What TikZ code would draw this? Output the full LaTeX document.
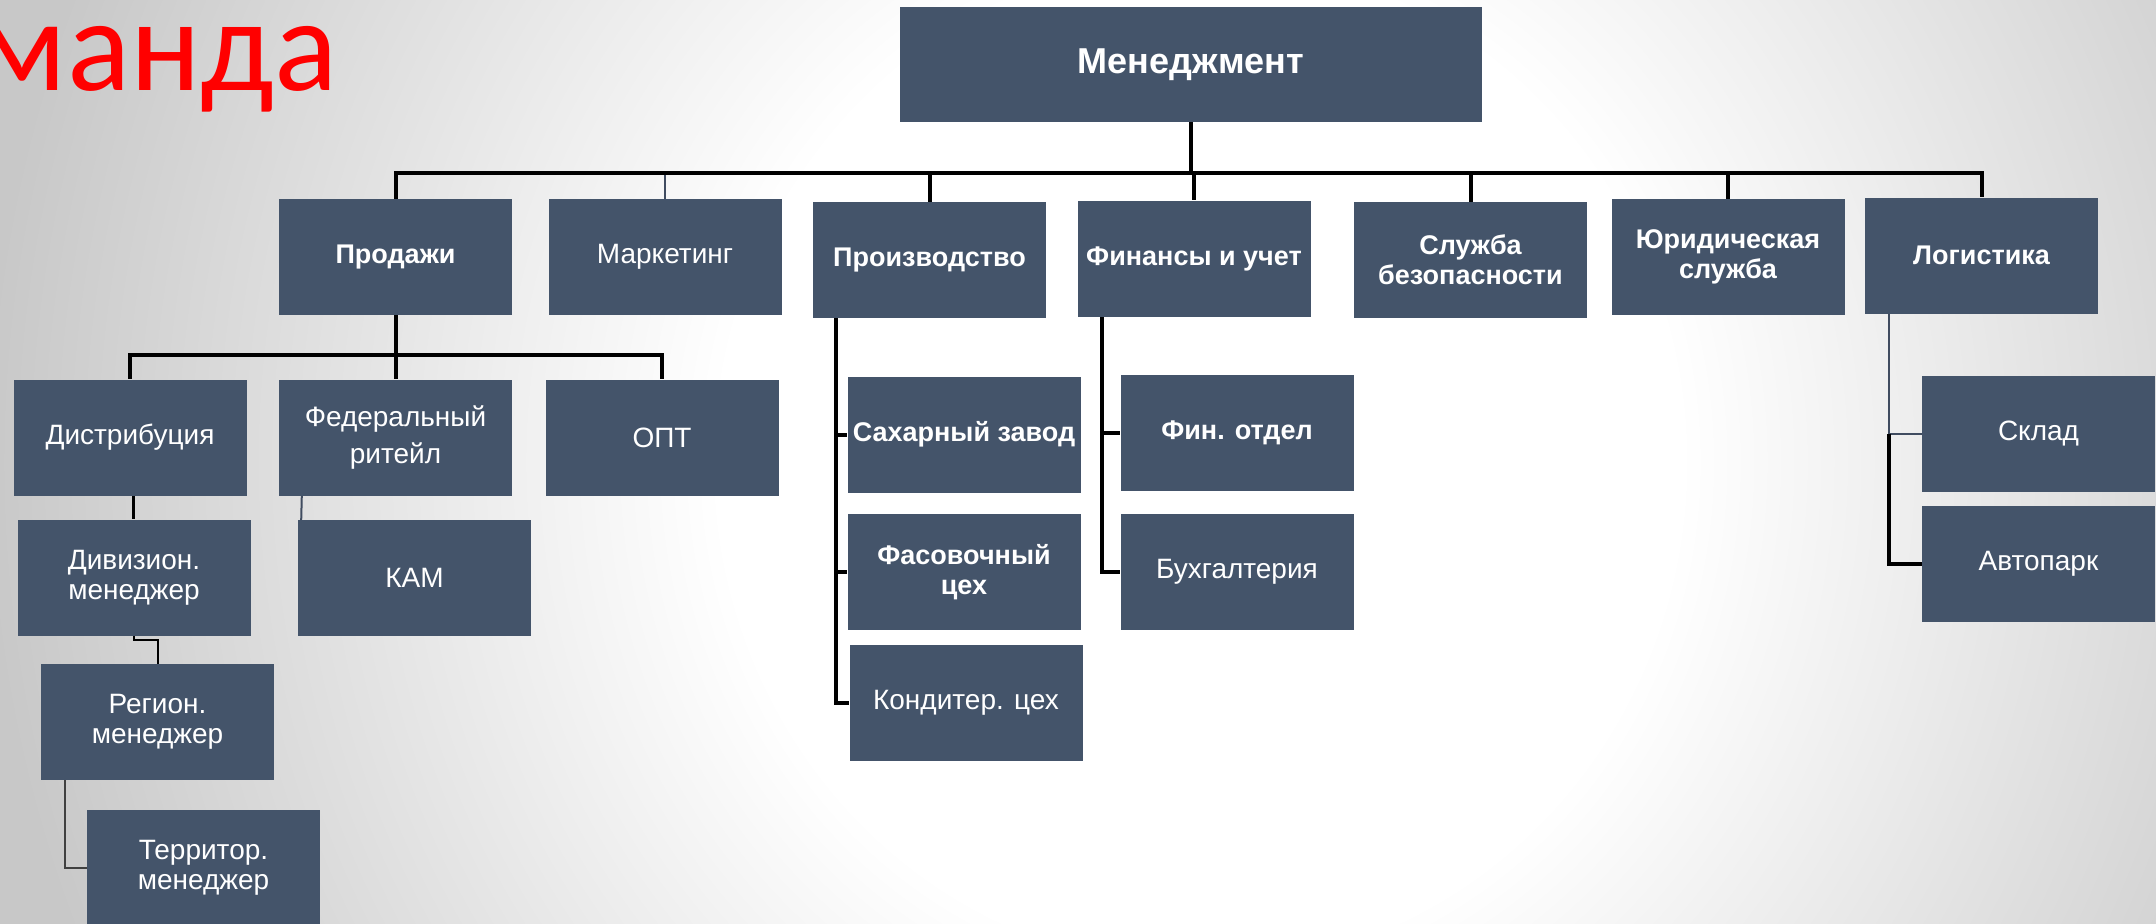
\documentclass[tikz,border=0pt]{standalone}
\usepackage{fontspec}
\setmainfont{Liberation Sans}
\newfontfamily\titlefont{Carlito}
\usetikzlibrary{calc}
\definecolor{boxc}{RGB}{68,84,106}
\definecolor{thinc}{RGB}{64,76,96}
\definecolor{bggray}{RGB}{200,200,200}
\pgfdeclarelayer{bgl}
\pgfdeclarelayer{lines}
\pgfsetlayers{bgl,lines,main}
\pgfdeclareradialshading{bgrad}{\pgfpoint{0bp}{0bp}}{color(0bp)=(white); color(7.5bp)=(white); color(19bp)=(bggray); color(25bp)=(bggray); color(50bp)=(bggray)}
\tikzset{
  box/.style={fill=boxc, draw=none, minimum width=233pt, minimum height=116pt,
    inner sep=0pt, align=center, text=white, font=\fontsize{28}{30}\selectfont},
  bbox/.style={box, font=\fontsize{27}{30}\selectfont\bfseries},
  bus/.style={draw=black, line width=4pt},
  thinline/.style={draw=thinc, line width=2pt},
}
\begin{document}
\begin{tikzpicture}[x=1pt,y=-1pt]
\useasboundingbox (0,0) rectangle (2156,924);
\begin{pgfonlayer}{bgl}
\begin{scope}
\clip (0,0) rectangle (2156,924);
\shade[shading=bgrad] (-400,-1200) rectangle (2800,2124);
\end{scope}
\end{pgfonlayer}

\node[anchor=base east, text=red, inner sep=0pt, font=\titlefont\fontsize{132}{132}\selectfont] (title) at (338,90) {манда};

% top
\node[box, minimum width=582pt, minimum height=115pt, font=\fontsize{36}{40}\selectfont\bfseries] (mgmt) at (1191,64.5) {Менеджмент};

% level 1
\node[bbox] (sales) at (395.5,257) {Продажи};
\node[box]  (mkt)   at (665,257) {Маркетинг};
\node[bbox] (prod)  at (929.5,260) {Производство};
\node[bbox] (fin)   at (1194,258.5) {Финансы и учет};
\node[bbox] (sec)   at (1470.5,260) {Служба\\безопасности};
\node[bbox] (jur)   at (1728,257) {Юридическая\\служба};
\node[bbox] (log)   at (1981.5,255.5) {Логистика};

% sales branch
\node[box] (dist) at (130,437.5) {Дистрибуция};
\node[box] (fed)  at (395.5,437.5) {Федеральный\\[7pt]ритейл};
\node[box] (opt)  at (662,437.5) {ОПТ};
\node[box] (div)  at (134,577.5) {Дивизион.\\менеджер};
\node[box] (kam)  at (414.5,577.5) {КАМ};
\node[box] (reg)  at (157.5,722) {Регион.\\менеджер};
\node[box] (ter)  at (203.5,868) {Территор.\\менеджер};

% production branch
\node[bbox] (sah)  at (964,434.5) {Сахарный завод};
\node[bbox] (fas)  at (964,572) {Фасовочный\\цех};
\node[box]  (kond) at (966,702.5) {Кондитер. цех};

% finance branch
\node[bbox] (finotd) at (1237,433) {Фин. отдел};
\node[box]  (buh)    at (1237,572) {Бухгалтерия};

% logistics branch
\node[box] (sklad) at (2038.5,434) {Склад};
\node[box] (avto)  at (2038.5,564) {Автопарк};

\begin{pgfonlayer}{lines}
\coordinate (hub) at (1191,173);
\draw[thinline] (mkt.north |- hub) -- (mkt.north);
\draw[bus] (mgmt.south) -- (hub) -| (sales.north);
\draw[bus] (hub) -| (prod.north);
\draw[bus] (hub) -| (fin.north);
\draw[bus] (hub) -| (sec.north);
\draw[bus] (hub) -| (jur.north);
\draw[bus] (hub) -| (log.north);

% sales
\coordinate (shub) at (395.5,355);
\draw[bus] (sales.south) -- (shub) -| (dist.north);
\draw[bus] (shub) -| (opt.north);
\draw[bus] (shub) -- (fed.north);
\draw[bus, line width=3pt] ([xshift=3pt]dist.south) -- ([xshift=-1pt]div.north);
\draw[draw=black, line width=2pt] (div.south) -- ++(0,4) -| (reg.north);
\draw[thinline, draw=black!75] ([xshift=24pt]reg.south west) |- (ter.west);
\draw[thinline] ([xshift=23pt]fed.south west) -- ([xshift=2pt]kam.west);

% production
\coordinate (pv) at ([xshift=23pt]prod.south west);
\draw[bus] (pv) |- (kond.west);
\draw[bus] (pv |- sah.west) -- (sah.west);
\draw[bus] (pv |- fas.west) -- (fas.west);

% finance
\coordinate (fv) at ([xshift=25pt]fin.south west);
\draw[bus] (fv) |- (buh.west);
\draw[bus] (fv |- finotd.west) -- (finotd.west);

% logistics
\coordinate (lv) at ([xshift=24pt]log.south west);
\draw[thinline] (lv) |- (sklad.west);
\draw[bus] (lv |- sklad.west) |- (avto.west);
\end{pgfonlayer}
\end{tikzpicture}
\end{document}
